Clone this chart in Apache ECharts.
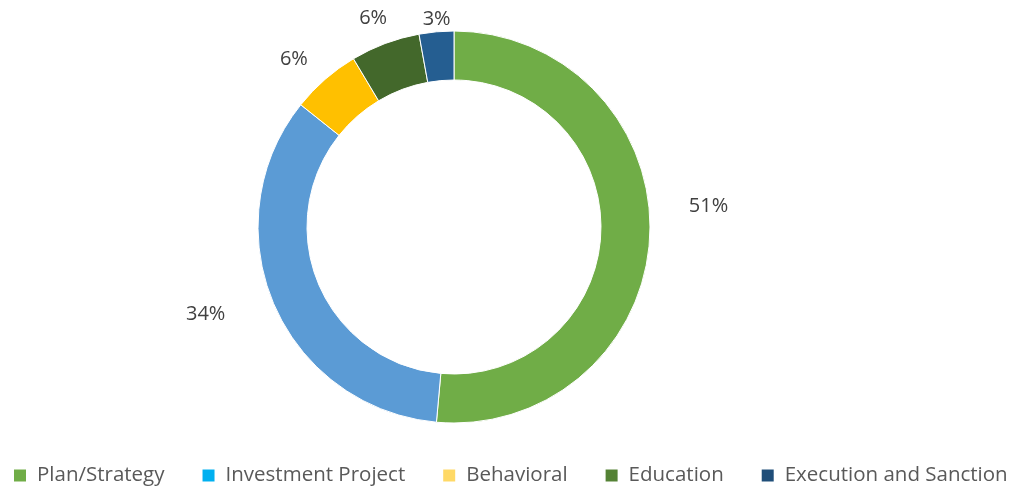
<!DOCTYPE html>
<html>
<head>
<meta charset="utf-8">
<script src="https://cdn.jsdelivr.net/npm/echarts@6/dist/echarts.min.js"></script>
<style>
  html, body { margin: 0; padding: 0; background: #fff; }
  #chart { width: 1015px; height: 488px; }
</style>
</head>
<body>
<div id="chart"></div>
<script>
const categories = ['Plan/Strategy', 'Investment Project', 'Behavioral', 'Education', 'Execution and Sanction']
// counts (labels show the rounded shares)
const counts = [36, 24, 4, 4, 2]

// slice fills and the (different) legend swatch fills seen in the source
const sliceColors = ['#70AD47', '#5B9BD5', '#FFC000', '#43682B', '#255E91']
const legendColors = ['#70AD47', '#00B0F0', '#FFD966', '#548235', '#1F4E79']
// nudges for the percent labels, which were hand placed in the original
const labelNudge = [[14, -30], [-25, 2], [1, -5], [14, -6], [21, 7]]

const chart = echarts.init(document.getElementById('chart'))

chart.setOption({
  animation: false,
  legend: {
    left: 12,
    top: 465,
    width: 1200,
    padding: 0,
    icon: 'rect',
    itemWidth: 14,
    itemHeight: 14,
    itemGap: 36,
    textStyle: { fontFamily: 'Open Sans', fontSize: 20.5, lineHeight: 21, color: '#595959', padding: [0, 0, 0, 5] },
    data: categories.map((name, i) => ({ name, itemStyle: { color: legendColors[i] } }))
  },
  series: [{
    type: 'pie',
    center: [454, 227],
    radius: [147, 196],
    startAngle: 90,
    clockwise: true,
    avoidLabelOverlap: false,
    itemStyle: { borderColor: '#fff', borderWidth: 1 },
    label: {
      show: true,
      position: 'outside',
      formatter: (p) => Math.round(p.percent) + '%',
      fontFamily: 'Open Sans',
      fontSize: 20,
      color: '#404040'
    },
    labelLine: { show: false, length: 20, length2: 0 },
    labelLayout: (p) => ({ dx: labelNudge[p.dataIndex][0], dy: labelNudge[p.dataIndex][1] }),
    emphasis: { disabled: true },
    data: categories.map((name, i) => ({
      name,
      value: counts[i],
      itemStyle: { color: sliceColors[i] }
    }))
  }]
})
</script>
</body>
</html>
